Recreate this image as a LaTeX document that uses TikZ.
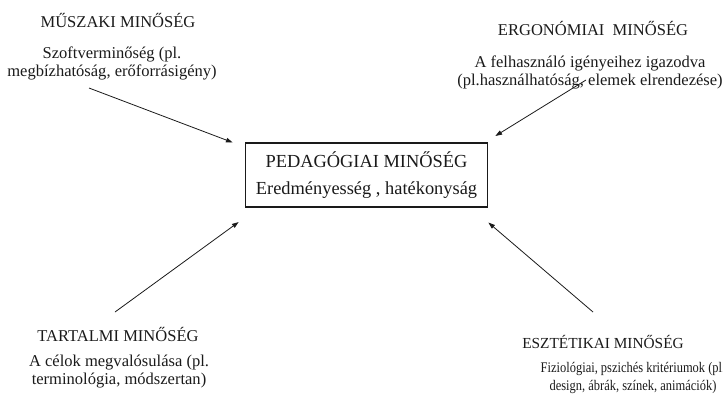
\documentclass[tikz,border=0pt]{standalone}
\usepackage{fontspec}
\setmainfont{Liberation Serif}
\newfontfamily\szukbetu[FakeStretch=0.85]{Liberation Serif}
\usetikzlibrary{arrows.meta,positioning,calc}
\definecolor{ink}{HTML}{1A1A1A}
\tikzset{>={Triangle[length=5pt,width=3.4pt]},
  kozep/.style={draw=ink,line width=0.8pt,minimum width=182pt,minimum height=48pt,align=center,inner sep=0pt,text=ink,font=\fontsize{13.8}{20.5}\selectfont},
  cim/.style={anchor=base,inner sep=0pt,text=ink,font=\fontsize{12.4}{13.5}\selectfont},
  leiras/.style={anchor=base,align=center,inner sep=0pt,text=ink,font=\fontsize{12.4}{13.5}\selectfont},
  szuk/.style={font=\szukbetu\fontsize{11}{12.8}\selectfont},
  nyil/.style={->,line width=0.6pt,ink}}
\begin{document}
\begin{tikzpicture}[x=0.75pt,y=-0.75pt]
\useasboundingbox (0,0) rectangle (723,394);
% kozponti doboz
\node[kozep] (ped) at (366.5,175) {PEDAGÓGIAI MINŐSÉG\\Eredményesség , hatékonyság};
% negy sarok
\node[cim] (musz) at (118,27) {MŰSZAKI MINŐSÉG};
\node[leiras] (muszl) at (112,76) {Szoftverminőség (pl.\\megbízhatóság, erőforrásigény)};
\node[cim] (ergo) at (593,35) {ERGONÓMIAI\ \ MINŐSÉG};
\node[leiras] (ergol) at (590,85) {A felhasználó igényeihez igazodva\\(pl.használhatóság, elemek elrendezése)};
\node[cim] (tart) at (118,341) {TARTALMI MINŐSÉG};
\node[leiras] (tartl) at (119,384) {A célok megvalósulása (pl.\\terminológia, módszertan)};
\node[cim,font=\fontsize{11.5}{13.5}\selectfont] (eszt) at (603,348) {ESZTÉTIKAI MINŐSÉG};
\node[leiras,szuk] (esztl) at (633,390) {Fiziológiai, pszichés kritériumok (pl.\\design, ábrák, színek, animációk)};
% nyilak kezdopontjai
\coordinate (m1) at (89,88);
\coordinate (e1) at (586,80);
\coordinate (t1) at (115,312);
\coordinate (s1) at (593,312);
\draw[nyil] (m1) -- ($(ped.north west)+(-12,0)$);
\draw[nyil] (e1) -- ($(ped.north east)+(7,-6.5)$);
\draw[nyil] (t1) -- ($(ped.south west)+(-6,14.5)$);
\draw[nyil] (s1) -- ($(ped.south east)+(0,15)$);
\end{tikzpicture}
\end{document}
